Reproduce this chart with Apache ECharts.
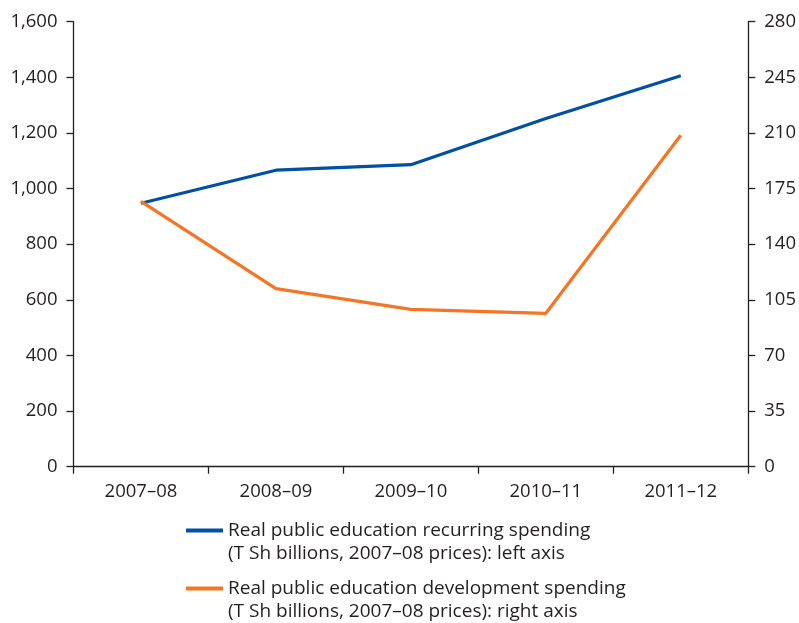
<!DOCTYPE html>
<html>
<head>
<meta charset="utf-8">
<script src="https://cdn.jsdelivr.net/npm/echarts@6/dist/echarts.min.js"></script>
<style>html,body{margin:0;padding:0;background:#fff}#c{width:799px;height:623px}</style>
</head>
<body>
<div id="c"></div>
<script>
const categories = ['2007–08', '2008–09', '2009–10', '2010–11', '2011–12'];
const recurring = [947, 1066, 1086, 1252, 1406];
const development = [167, 112, 99, 96.5, 208.5];
const leftTicks = [0, 1600, 200];
const rightTicks = [0, 280, 35];
const seriesNames = [
  'Real public education recurring spending\n(T Sh billions, 2007–08 prices): left axis',
  'Real public education development spending\n(T Sh billions, 2007–08 prices): right axis'
];

const FONT = 'Open Sans';
const TXT = '#231f20';
const AX = '#231f20';
const chart = echarts.init(document.getElementById('c'), null, {renderer: 'canvas'});
const axisLine = {show: true, lineStyle: {color: AX, width: 1.3}};
const axisTick = {show: true, length: 7, lineStyle: {color: AX, width: 1.3}};
const yLabel = {color: TXT, fontFamily: FONT, fontSize: 18.5, margin: 16};
const legendText = {color: TXT, fontFamily: FONT, fontSize: 19, lineHeight: 23};
const legendBase = {orient: 'vertical', left: 181, itemWidth: 37, itemHeight: 4, itemGap: 0,
  icon: 'rect', textStyle: legendText, selectedMode: false, formatter: n => '\n' + n};
chart.setOption({
  animation: false,
  textStyle: {fontFamily: FONT},
  grid: {left: 73.5, right: 50.5, top: 21.7, bottom: 156.3, containLabel: false},
  legend: [
    Object.assign({data: [seriesNames[0]], top: 491}, legendBase),
    Object.assign({data: [seriesNames[1]], top: 549}, legendBase)
  ],
  xAxis: {
    type: 'category', data: categories, boundaryGap: true,
    axisLine: axisLine,
    axisTick: {show: true, length: 7, alignWithLabel: false, lineStyle: {color: AX, width: 1.3}},
    axisLabel: {color: TXT, fontFamily: FONT, fontSize: 18.5, margin: 16}
  },
  yAxis: [
    {type: 'value', position: 'left', min: leftTicks[0], max: leftTicks[1], interval: leftTicks[2],
      axisLine: axisLine, axisTick: axisTick, splitLine: {show: false},
      axisLabel: Object.assign({}, yLabel, {formatter: v => v.toLocaleString('en-US')})},
    {type: 'value', position: 'right', min: rightTicks[0], max: rightTicks[1], interval: rightTicks[2],
      axisLine: axisLine, axisTick: axisTick, splitLine: {show: false}, axisLabel: yLabel}
  ],
  series: [
    {name: seriesNames[0], type: 'line', yAxisIndex: 0, data: recurring, symbol: 'none',
      lineStyle: {color: '#0050a4', width: 3.2}, itemStyle: {color: '#0050a4'}},
    {name: seriesNames[1], type: 'line', yAxisIndex: 1, data: development, symbol: 'none',
      lineStyle: {color: '#f47524', width: 3.2}, itemStyle: {color: '#f47524'}}
  ]
});
</script>
</body>
</html>
